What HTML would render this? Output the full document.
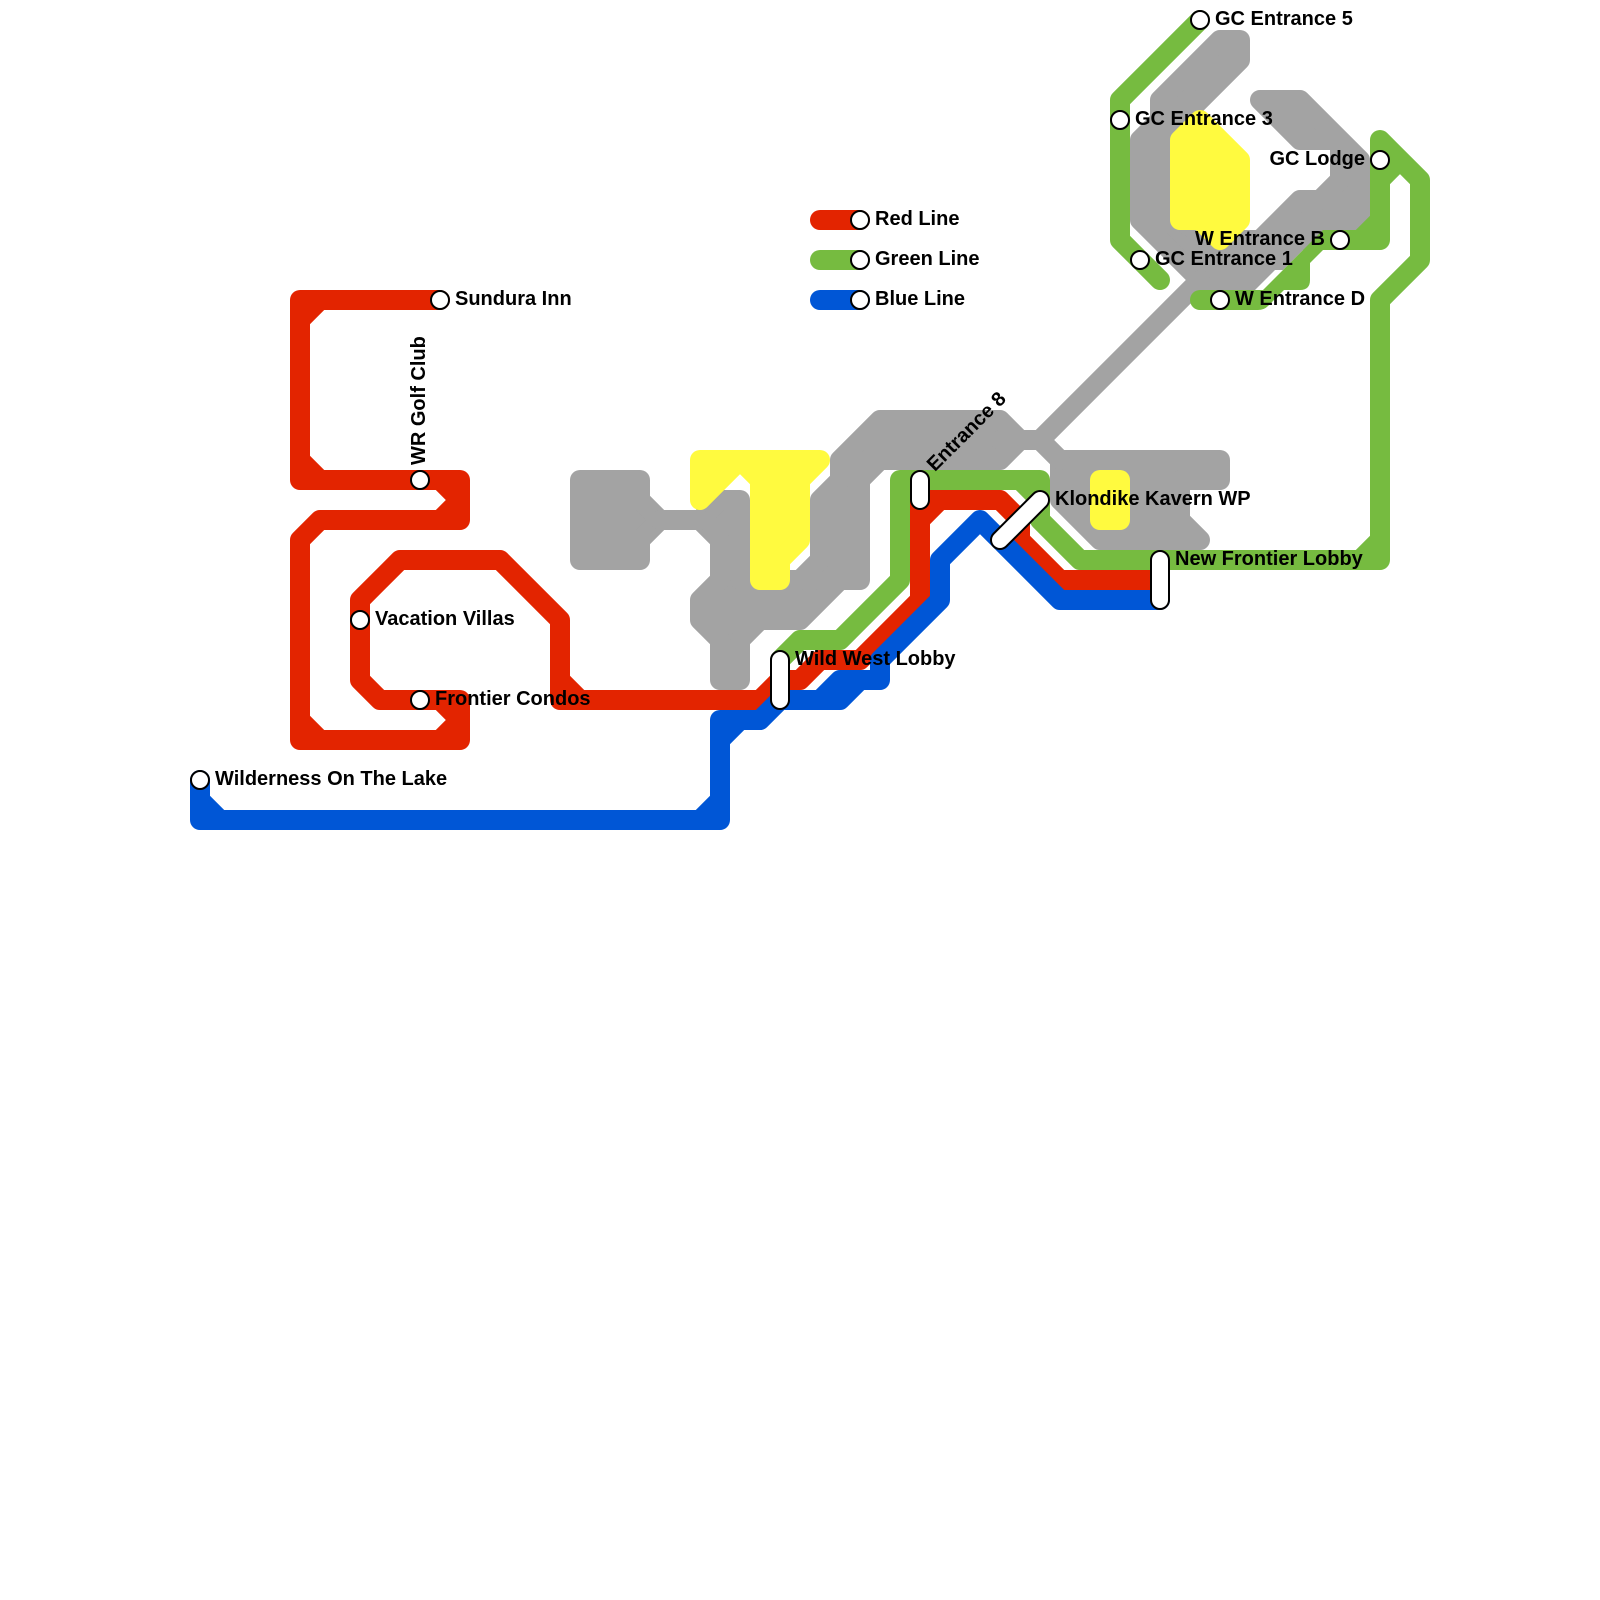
<!DOCTYPE html>
<html><head><meta charset="utf-8"><style>
html,body{margin:0;padding:0;background:#fff}
svg{display:block}
text{font-family:"Liberation Sans",Arial,sans-serif;font-weight:bold;font-size:20px;fill:#000}
.l{fill:none;stroke-width:20;stroke-linecap:round;stroke-linejoin:round}
.f{stroke-width:20;stroke-linecap:round;stroke-linejoin:round}
.g{fill:#a3a3a3;stroke:#a3a3a3}
.y{fill:#fffa3f;stroke:#fffa3f}
.s{fill:#fff;stroke:#000;stroke-width:2}
</style></head><body>
<svg width="1600" height="1600" viewBox="0 0 1600 1600" xmlns="http://www.w3.org/2000/svg">
<rect width="1600" height="1600" fill="#fff"/>
<!-- gray -->
<g class="f g">
<polygon points="1160,100 1220,40 1240,40 1240,60 1180,120 1180,220 1240,260 1300,200 1320,200 1340,180 1340,140 1300,140 1260,100 1300,100 1360,160 1360,220 1340,240 1300,240 1260,240 1200,280 1140,220 1140,140 1160,120"/>
<polygon points="1060,460 1220,460 1220,480 1180,480 1180,520 1200,540 1100,540 1060,500"/>
<polygon points="880,420 1000,420 1020,440 1000,460 880,460 860,480 860,580 840,580 800,620 760,620 740,640 740,680 720,680 720,640 700,620 700,600 720,580 720,540 700,520 720,500 740,500 740,580 800,580 820,560 820,500 840,480 840,460"/>
<polygon points="580,480 640,480 640,500 660,520 640,540 640,560 580,560"/>
</g>
<polygon fill="#a3a3a3" points="1200,230 1323,230 1283,270 1275,270 1255,290 1190,290 1190,270"/>
<path class="l" stroke="#a3a3a3" d="M660 520H700M1200 280L1040 440L1060 460M1000 440H1040"/>
<!-- yellow -->
<g class="f y">
<polygon points="1180,140 1200,120 1240,160 1240,220 1220,240 1200,220 1180,220"/>
<polygon points="700,460 820,460 800,480 800,540 780,560 780,580 760,580 760,480 740,460 700,500"/>
<rect x="1100" y="480" width="20" height="40"/>
</g>
<!-- green -->
<path class="l" stroke="#76bb40" d="M1200 20L1120 100V240L1160 280M780 660L800 640H840L900 580V480H1040V520L1080 560H1380V300L1420 260V180L1380 140V240H1340M1020 480L1040 500M1360 560L1380 540M1380 180L1400 160M1360 240L1380 220M1200 300H1210"/>
<path fill="#76bb40" d="M1345 230H1323L1263 290H1200V310H1258Q1264 310 1268 306L1284 290H1300Q1310 290 1310 280V263L1323 250H1345Z"/>
<path class="l" stroke="#76bb40" d="M820 260H860"/>
<!-- red -->
<path class="l" stroke="#e32400" d="M440 300H300V480H460V520H320L300 540V740H460V700H380L360 680V600L400 560H500L560 620V700H760L780 680H800L820 660H860L920 600V500H1000L1020 520V540L1060 580H1160M320 300L300 320M300 460L320 480M440 480L460 500L440 520M300 720L320 740M440 740L460 720L440 700M560 680L580 700M920 520L940 500M820 220H860"/>
<!-- blue -->
<path class="l" stroke="#0056d6" d="M200 780V820H720V720H760L780 700H840L860 680H880V660L940 600V560L980 520L1060 600H1160M820 700L840 680H880M200 800L220 820M700 820L720 800M720 740L740 720M820 300H860"/>
<!-- stations -->
<g class="s">
<circle cx="440" cy="300" r="9"/><circle cx="420" cy="480" r="9"/><circle cx="360" cy="620" r="9"/><circle cx="420" cy="700" r="9"/><circle cx="200" cy="780" r="9"/>
<circle cx="860" cy="220" r="9"/><circle cx="860" cy="260" r="9"/><circle cx="860" cy="300" r="9"/>
<circle cx="1200" cy="20" r="9"/><circle cx="1120" cy="120" r="9"/><circle cx="1380" cy="160" r="9"/><circle cx="1340" cy="240" r="9"/><circle cx="1140" cy="260" r="9"/><circle cx="1220" cy="300" r="9"/>
<rect x="771" y="651" width="18" height="58" rx="9"/>
<rect x="911" y="471" width="18" height="38" rx="9"/>
<rect x="1151" y="551" width="18" height="58" rx="9"/>
</g>
<path d="M1000 540L1040 500" stroke="#000" stroke-width="20" stroke-linecap="round"/>
<path d="M1000 540L1040 500" stroke="#fff" stroke-width="16" stroke-linecap="round"/>
<!-- labels -->
<text x="455" y="305">Sundura Inn</text>
<text x="375" y="625">Vacation Villas</text>
<text x="435" y="705">Frontier Condos</text>
<text x="215" y="785">Wilderness On The Lake</text>
<text x="425" y="465" transform="rotate(-90 425 465)">WR Golf Club</text>
<text x="875" y="225">Red Line</text>
<text x="875" y="265">Green Line</text>
<text x="875" y="305">Blue Line</text>
<text x="795" y="665">Wild West Lobby</text>
<text x="936" y="485" transform="rotate(-45 920 480)">Entrance 8</text>
<text x="1055" y="505">Klondike Kavern WP</text>
<text x="1175" y="565">New Frontier Lobby</text>
<text x="1215" y="25">GC Entrance 5</text>
<text x="1135" y="125">GC Entrance 3</text>
<text x="1155" y="265">GC Entrance 1</text>
<text x="1235" y="305">W Entrance D</text>
<text x="1365" y="165" text-anchor="end">GC Lodge</text>
<text x="1325" y="245" text-anchor="end">W Entrance B</text>
</svg>
</body></html>
